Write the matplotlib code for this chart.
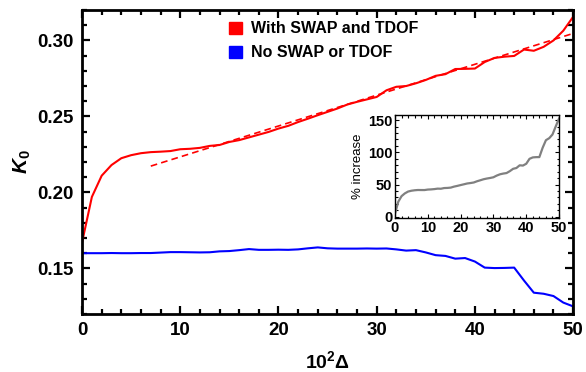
import numpy as np
import matplotlib
matplotlib.use("Agg")
import matplotlib.pyplot as plt
from matplotlib.patches import Patch
from matplotlib.ticker import MultipleLocator

plt.rcParams['font.family'] = ['Liberation Sans', 'DejaVu Sans']
plt.rcParams['font.weight'] = 'bold'
plt.rcParams['mathtext.fontset'] = 'custom'
plt.rcParams['mathtext.rm'] = 'Liberation Sans:bold'
plt.rcParams['mathtext.it'] = 'Liberation Sans:bold:italic'
plt.rcParams['mathtext.bf'] = 'Liberation Sans:bold'

# 10^2 Delta
delta = np.arange(0, 51)

# K_0 with SWAP and TDOF
k_swap = [0.167, 0.197, 0.211, 0.218, 0.2225, 0.2245, 0.2258, 0.2265, 0.2268, 0.2272,
          0.2284, 0.2287, 0.2293, 0.2306, 0.2312, 0.2332, 0.2344, 0.2362, 0.2380, 0.2398,
          0.2420, 0.2438, 0.2463, 0.2485, 0.2508, 0.2530, 0.2552, 0.2578, 0.2596, 0.2612,
          0.2628, 0.2672, 0.2695, 0.2700, 0.2718, 0.2740, 0.2767, 0.2778, 0.2812, 0.2813,
          0.2815, 0.2858, 0.2885, 0.2893, 0.2898, 0.2940, 0.2932, 0.2958, 0.3000, 0.3064,
          0.3155]

# K_0 without SWAP or TDOF
k_plain = [0.1600, 0.1600, 0.1600, 0.1601, 0.1600, 0.1600, 0.1601, 0.1601, 0.1604, 0.1607,
           0.1607, 0.1606, 0.1605, 0.1606, 0.1612, 0.1614, 0.1620, 0.1627, 0.1622, 0.1622,
           0.1623, 0.1622, 0.1625, 0.1632, 0.1638, 0.1632, 0.1630, 0.1630, 0.1630, 0.1631,
           0.1630, 0.1631, 0.1625, 0.1617, 0.1620, 0.1605, 0.1587, 0.1582, 0.1564, 0.1568,
           0.1545, 0.1505, 0.1502, 0.1503, 0.1505, 0.1420, 0.1340, 0.1333, 0.1318, 0.1275,
           0.1250]

# linear fit of the SWAP curve
fit_x = [7, 50]
fit_y = [0.2173, 0.3046]

k_swap = np.array(k_swap)
k_plain = np.array(k_plain)
pct_increase = (k_swap / k_plain - 1) * 100

fig = plt.figure(figsize=(5.86, 3.72), dpi=100)
ax = fig.add_axes([0.140, 0.156, 0.838, 0.817])

ax.plot(delta, k_swap, color='red', lw=1.5)
ax.plot(fit_x, fit_y, color='red', lw=1.2, ls=(0, (4, 2.5)))
ax.plot(delta, k_plain, color='blue', lw=1.5)

ax.set_xlim(0, 50)
ax.set_ylim(0.12, 0.32)
ax.xaxis.set_major_locator(MultipleLocator(10))
ax.xaxis.set_minor_locator(MultipleLocator(2))
ax.yaxis.set_major_locator(MultipleLocator(0.05))
ax.yaxis.set_minor_locator(MultipleLocator(0.01))
ax.yaxis.set_major_formatter(matplotlib.ticker.FormatStrFormatter('%.2f'))
ax.tick_params(which='both', direction='in', top=True, right=True, width=1.6,
               labelsize=13.5, pad=6)
ax.tick_params(which='major', length=6)
ax.tick_params(which='minor', length=3.5)
for s in ax.spines.values():
    s.set_linewidth(2)

ax.set_xlabel(r'$\mathbf{10^2\Delta}$', fontsize=14, labelpad=8)
ax.set_ylabel(r'$K_0$', fontsize=15, labelpad=3)

handles = [Patch(color='red', label='With SWAP and TDOF'),
           Patch(color='blue', label='No SWAP or TDOF')]
ax.legend(handles=handles, loc='upper left', bbox_to_anchor=(0.27, 1.01),
          frameon=False, fontsize=11.5, handlelength=0.8, handleheight=0.8,
          handletextpad=0.6, labelspacing=0.55)

# inset: relative gain
ins = fig.add_axes([0.674, 0.414, 0.280, 0.277])
ins.plot(delta, pct_increase, color='#808080', lw=1.6)
ins.set_xlim(0, 50)
ins.set_ylim(-2, 158)
ins.xaxis.set_major_locator(MultipleLocator(10))
ins.xaxis.set_minor_locator(MultipleLocator(2))
ins.yaxis.set_major_locator(MultipleLocator(50))
ins.yaxis.set_minor_locator(MultipleLocator(10))
ins.tick_params(which='both', direction='in', top=True, right=True, width=0.8,
                labelsize=10.5, pad=2)
ins.tick_params(which='major', length=3)
ins.tick_params(which='minor', length=1.8)
for s in ins.spines.values():
    s.set_linewidth(1)
ins.set_ylabel('% increase', fontsize=9.5, labelpad=3)

fig.savefig('out.png', dpi=100)
